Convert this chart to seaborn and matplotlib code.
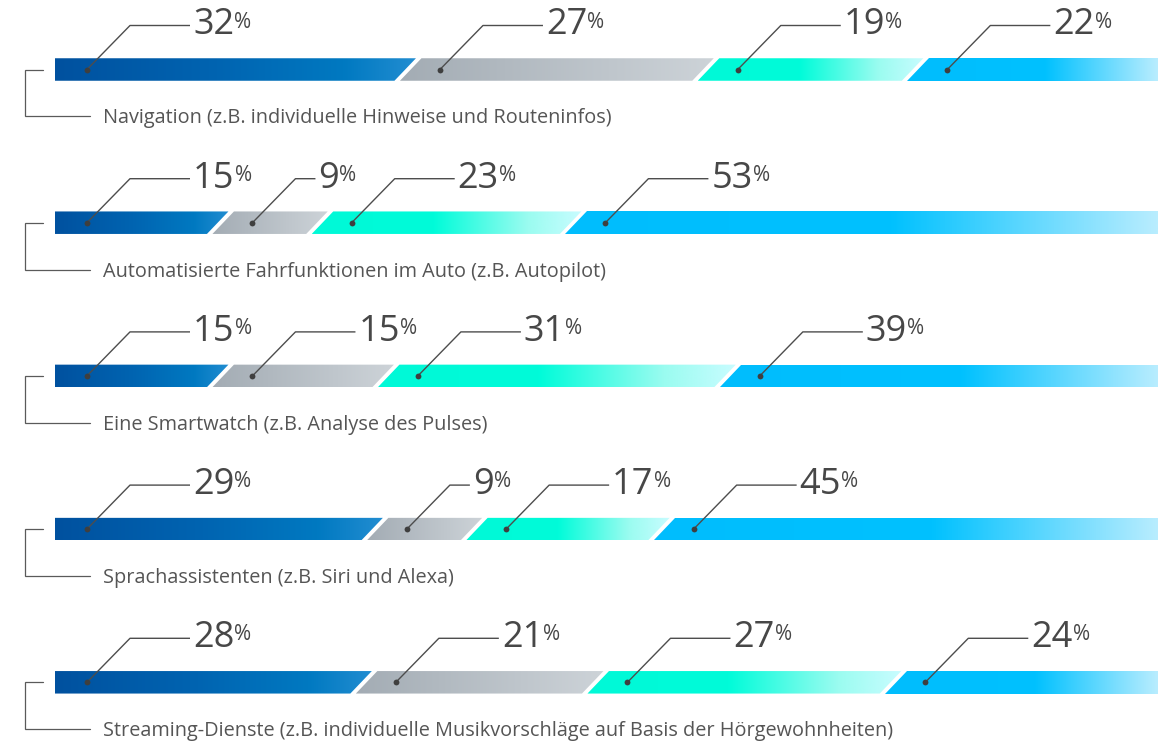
import numpy as np
import pandas as pd
import matplotlib
matplotlib.use("Agg")
import matplotlib.pyplot as plt
from matplotlib.colors import LinearSegmentedColormap
from matplotlib.patches import Polygon
import seaborn as sns

# ---------------------------------------------------------------- data
categories = [
    "Navigation (z.B. individuelle Hinweise und Routeninfos)",
    "Automatisierte Fahrfunktionen im Auto (z.B. Autopilot)",
    "Eine Smartwatch (z.B. Analyse des Pulses)",
    "Sprachassistenten (z.B. Siri und Alexa)",
    "Streaming-Dienste (z.B. individuelle Musikvorschläge auf Basis der Hörgewohnheiten)",
]
share_1 = [32, 15, 15, 29, 28]
share_2 = [27, 9, 15, 9, 21]
share_3 = [19, 23, 31, 17, 27]
share_4 = [22, 53, 39, 45, 24]

# colour ramps for the four segments (position inside segment, colour)
ramps = [
    [(0.0, "#00519f"), (0.45, "#0064b1"), (0.8, "#0079c1"), (1.0, "#228dd1")],
    [(0.0, "#a3acb4"), (1.0, "#cdd3d8")],
    [(0.0, "#00f9d7"), (0.45, "#00fbd9"), (0.8, "#9afcf0"), (1.0, "#c8fcff")],
    [(0.0, "#00bdfd"), (0.55, "#00c1ff"), (1.0, "#b9edfe")],
]

# ---------------------------------------------------------------- style
sns.set_theme(style="white")
plt.rcParams["font.family"] = ["Open Sans", "DejaVu Sans"]

W_PX, H_PX = 1174, 749
fig = plt.figure(figsize=(W_PX / 100, H_PX / 100), dpi=100)
ax = fig.add_axes([0, 0, 1, 1])

# axis mapping: 0..100 % spans the bar track, rows evenly spaced
BAR_LEFT_PX, BAR_RIGHT_PX = 55, 1158
ux = 100 / (BAR_RIGHT_PX - BAR_LEFT_PX)          # data units per pixel (x)
X_LO = -BAR_LEFT_PX * ux
X_HI = 100 + (W_PX - BAR_RIGHT_PX) * ux
ROW_PX = 153.2
FIRST_ROW_PX = 69.5
n_rows = len(categories)
Y_TOP = -FIRST_ROW_PX / ROW_PX
Y_BOT = (n_rows - 1) + (H_PX - FIRST_ROW_PX - ROW_PX * (n_rows - 1)) / ROW_PX
BAR_W = 22.5 / ROW_PX

df = pd.DataFrame({"Kategorie": categories, "s1": share_1, "s2": share_2,
                   "s3": share_3, "s4": share_4})
cols = ["s1", "s2", "s3", "s4"]
cum = df[cols].cumsum(axis=1)

# cumulative bars, drawn longest first; their geometry drives the segments
bar_patches = [None] * len(cols)
for k in reversed(range(len(cols))):
    n_before = len(ax.patches)
    sns.barplot(x=cum[cols[k]], y=df["Kategorie"], orient="h", width=BAR_W,
                color="white", errorbar=None, ax=ax)
    bar_patches[k] = list(ax.patches[n_before:])

ax.set_xlim(X_LO, X_HI)
ax.set_ylim(Y_BOT, Y_TOP)
ax.axis("off")


def shift(x, y, dx, dy):
    """Move a data point by (dx, dy) display pixels (dy positive = up)."""
    X, Y = ax.transData.transform((x, y))
    return ax.transData.inverted().transform((X + dx, Y + dy))


def px_x(px):
    return X_LO + px * ux


SLANT = 10.75   # half horizontal shift of the slanted cut, px
GAP = 5.5       # white gap between segments, px
sx, gx = SLANT * ux, GAP * ux
cmaps = [LinearSegmentedColormap.from_list(f"seg{k}", r) for k, r in enumerate(ramps)]
grad = np.linspace(0, 1, 512)

TXT = "#474747"
LINE = "#4d4d4d"
n_seg = len(cols)

for i in range(n_rows):
    for k in range(n_seg):
        p = bar_patches[k][i]
        p.set_visible(False)
        x1 = p.get_x() + p.get_width()
        if k == 0:
            x0 = 0.0
        else:
            q = bar_patches[k - 1][i]
            x0 = q.get_x() + q.get_width()
        y_top = p.get_y()
        y_bot = p.get_y() + p.get_height()
        yc = (y_top + y_bot) / 2

        lb = x0 if k == 0 else x0 - sx + gx / 2
        lt = x0 if k == 0 else x0 + sx + gx / 2
        rb = x1 if k == n_seg - 1 else x1 - sx - gx / 2
        rt = x1 if k == n_seg - 1 else x1 + sx - gx / 2
        poly = Polygon([(lb, y_bot), (rb, y_bot), (rt, y_top), (lt, y_top)],
                       closed=True, facecolor="none", edgecolor="none")
        ax.add_patch(poly)
        xmin, xmax = min(lb, lt), max(rb, rt)
        img = cmaps[k](grad)[np.newaxis, :, :]
        im = ax.imshow(img, extent=[xmin, xmax, y_bot, y_top], aspect="auto",
                       interpolation="bilinear", zorder=2)
        im.set_clip_path(poly)

        # leader line with value label
        val = df[cols[k]].iloc[i]
        dot_x = x0 + 32 * ux
        cx, cy = shift(dot_x, yc, 43, 44)
        run = 20 if val < 10 else 60
        ex, ey = shift(cx, cy, run, 0)
        ax.plot([dot_x, cx, ex], [yc, cy, ey], color=LINE, lw=1.0,
                solid_capstyle="butt", zorder=3)
        ax.plot([dot_x], [yc], marker="o", ms=4.2, color="#3f3f3f",
                mec="none", zorder=4)
        tx, ty = shift(ex, ey, 3, 0)
        num = ax.text(tx, ty, f"{val}", ha="left", va="center",
                      fontsize=26, color=TXT, zorder=4)
        ax.annotate("%", xy=(1, 1), xycoords=num, xytext=(0, -3),
                    textcoords="offset points", ha="left", va="top",
                    fontsize=15, color=TXT)

    # bracket and category label
    p0 = bar_patches[0][i]
    yc = p0.get_y() + p0.get_height() / 2
    _, y_br = shift(0, yc, 0, -47)
    ax.plot([px_x(43), px_x(25), px_x(25), px_x(90)], [yc, yc, y_br, y_br],
            color="#5a5a5a", lw=0.9, solid_joinstyle="miter", zorder=3)
    _, y_lab = shift(0, yc, 0, -49)
    ax.text(px_x(103), y_lab, categories[i], ha="left", va="center",
            fontsize=14.3, color="#555555")

fig.savefig("out.png", dpi=100, facecolor="white")
